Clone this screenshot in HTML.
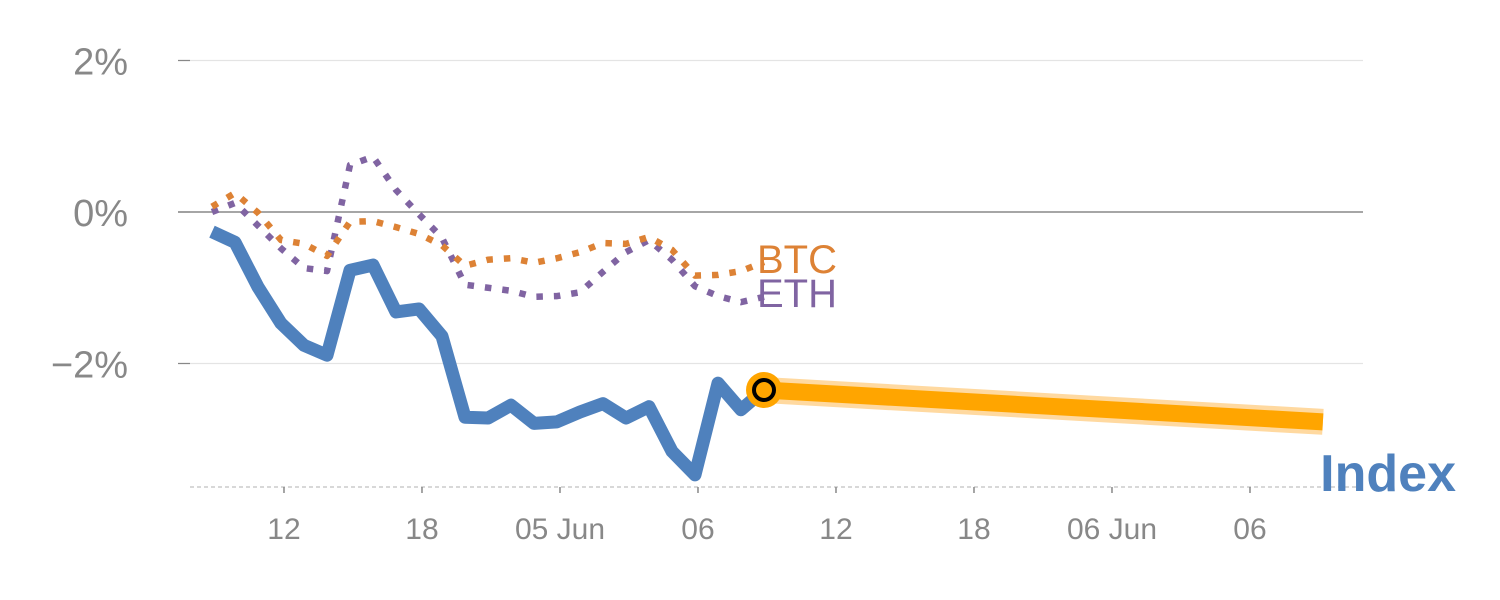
<!DOCTYPE html>
<html><head><meta charset="utf-8"><style>
html,body{margin:0;padding:0;background:#fff;}
svg{display:block;font-family:"Liberation Sans",Arial,sans-serif;}
</style></head><body>
<svg id="chart" width="1500" height="600" viewBox="0 0 1500 600" xmlns="http://www.w3.org/2000/svg"></svg>
<script>
const yTicks = [2, 0, -2];
const yTickLabels = ["2%", "0%", "\u22122%"];
const xTickLabels = ["12", "18", "05 Jun", "06", "12", "18", "06 Jun", "06"];
const xTickPos = [3.13, 9.13, 15.13, 21.13, 27.13, 33.13, 39.13, 45.13];
const indexVals = [-0.26,-0.40,-0.99,-1.47,-1.76,-1.89,-0.77,-0.70,-1.32,-1.28,-1.64,-2.71,-2.72,-2.55,-2.79,-2.77,-2.64,-2.53,-2.72,-2.57,-3.16,-3.47,-2.26,-2.61,-2.35];
const btcVals = [0.07,0.25,-0.01,-0.37,-0.42,-0.58,-0.13,-0.12,-0.20,-0.29,-0.44,-0.71,-0.63,-0.61,-0.67,-0.61,-0.53,-0.41,-0.42,-0.33,-0.50,-0.84,-0.83,-0.78,-0.66];
const ethVals = [0.00,0.12,-0.18,-0.48,-0.74,-0.78,0.62,0.73,0.29,-0.03,-0.34,-0.96,-1.00,-1.04,-1.12,-1.11,-1.06,-0.79,-0.53,-0.37,-0.63,-0.98,-1.11,-1.19,-1.12];
const forecastX = [24, 48.3];
const forecastVals = [-2.35, -2.77];

const NS = "http://www.w3.org/2000/svg";
const svg = document.getElementById("chart");
const xs = i => 212 + 23 * i;
const ys = v => 212 - 75.75 * v;
function mk(tag, attrs, parent) {
  const e = document.createElementNS(NS, tag);
  for (const k in attrs) e.setAttribute(k, attrs[k]);
  (parent || svg).appendChild(e);
  return e;
}
yTicks.forEach((t, k) => {
  const g = mk("line", {x1: 178, x2: 1363, y1: ys(t), y2: ys(t), stroke: t === 0 ? "#888" : "#e4e4e4", "stroke-width": t === 0 ? 1.5 : 1.2});
  
  
  const tm = mk("line", {x1: 178, x2: 190, y1: ys(t), y2: ys(t), stroke: "#888", "stroke-width": 1.2});
  
  
  const lb = mk("text", {x: 128, y: ys(t) + 14, "text-anchor": "end", "font-size": 38, fill: "#888"});
  lb.textContent = yTickLabels[k];
  
  
});
const ax = mk("line", {x1: 190, x2: 1363, y1: 487, y2: 487, stroke: "#ccc", "stroke-width": 1.5, "stroke-dasharray": "4,3"});


xTickPos.forEach((p, k) => {
  const tm = mk("line", {x1: xs(p), x2: xs(p), y1: 487, y2: 493, stroke: "#888", "stroke-width": 1.5});
  
  
  const lb = mk("text", {x: xs(p), y: 539, "text-anchor": "middle", "font-size": 30, fill: "#888"});
  lb.textContent = xTickLabels[k];
  
  
});
function pts(vals) { return vals.map((v, i) => xs(i) + "," + ys(v)).join(" "); }
const fp = forecastX.map((x, i) => xs(x) + "," + ys(forecastVals[i])).join(" ");
const fh = mk("polyline", {points: fp, fill: "none", stroke: "#ffd9a0", "stroke-width": 26, "stroke-linecap": "butt"});


const fl = mk("polyline", {points: fp, fill: "none", stroke: "#ffa500", "stroke-width": 17, "stroke-linecap": "butt"});


const eth = mk("polyline", {points: pts(ethVals), fill: "none", stroke: "#8064a2", "stroke-width": 6.5, "stroke-dasharray": "6.5,11", "stroke-linejoin": "round"});


const btc = mk("polyline", {points: pts(btcVals), fill: "none", stroke: "#dd8235", "stroke-width": 6.5, "stroke-dasharray": "6.5,11", "stroke-linejoin": "round"});


const idx = mk("polyline", {points: pts(indexVals), fill: "none", stroke: "#4f81bd", "stroke-width": 13, "stroke-linejoin": "round"});


const last = indexVals.length - 1;
const c1 = mk("circle", {cx: xs(last), cy: ys(indexVals[last]), r: 18, fill: "#ffa500"});


const c2 = mk("circle", {cx: xs(last), cy: ys(indexVals[last]), r: 10, fill: "none", stroke: "#000", "stroke-width": 4});


const bl = mk("text", {x: 757, y: 273, "font-size": 40, fill: "#dd8235"});
bl.textContent = "BTC";


const el = mk("text", {x: 757, y: 307, "font-size": 40, fill: "#8064a2"});
el.textContent = "ETH";


const il = mk("text", {x: 1456, y: 491, "text-anchor": "end", "font-size": 52, "font-weight": "bold", fill: "#4f81bd"});
il.textContent = "Index";


</script>
</body></html>
